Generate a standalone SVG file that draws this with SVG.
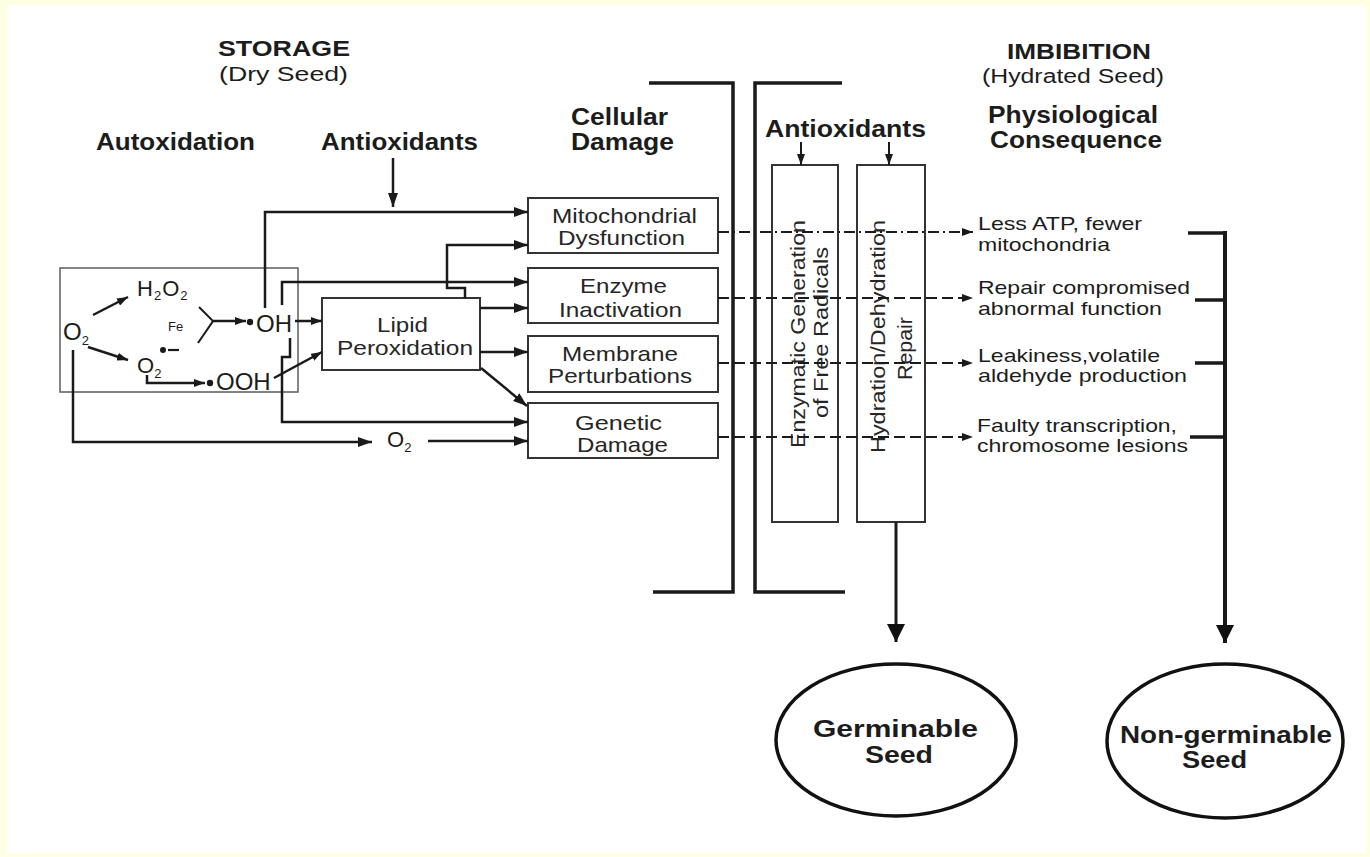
<svg xmlns="http://www.w3.org/2000/svg" width="1370" height="857" viewBox="0 0 1370 857">
<style>
text{font-family:"Liberation Sans",Arial,Helvetica,sans-serif;fill:#1c1c1c}
.h{font-weight:bold;font-size:24px}
.h2{font-weight:bold;font-size:22px}
.s{font-size:22px}
.p{font-size:20px}
.r{font-size:19px}
.b{font-size:21px;fill:#262626}
.ch{font-size:24px}
.sub{font-size:13px}
.box{fill:#fff;stroke:#333;stroke-width:2}
.vbox{fill:none;stroke:#333;stroke-width:2}
.frame{fill:none;stroke:#666;stroke-width:1.6}
.ln{fill:none;stroke:#1a1a1a;stroke-width:2.5}
.thin{fill:none;stroke:#1a1a1a;stroke-width:2}
.ds{fill:none;stroke:#1a1a1a;stroke-width:2;stroke-dasharray:11 5}
.dd{fill:none;stroke:#1a1a1a;stroke-width:2;stroke-dasharray:11 4 2 4}
.br{fill:none;stroke:#1a1a1a;stroke-width:3.5}
.ov{fill:#fff;stroke:#111;stroke-width:3.5}
</style>
<defs>
<marker id="ah" markerUnits="userSpaceOnUse" markerWidth="14" markerHeight="10" refX="14" refY="5" orient="auto"><path d="M0,0L14,5L0,10z" fill="#1a1a1a"/></marker>
<marker id="as" markerUnits="userSpaceOnUse" markerWidth="11" markerHeight="8" refX="11" refY="4" orient="auto"><path d="M0,0L11,4L0,8z" fill="#1a1a1a"/></marker>
<marker id="al" markerUnits="userSpaceOnUse" markerWidth="18" markerHeight="18" refX="18" refY="9" orient="auto"><path d="M0,0L18,9L0,18z" fill="#111"/></marker>
</defs>

<rect x="0" y="0" width="1370" height="857" fill="#FFFFE3"/>
<rect x="7" y="5" width="1359" height="848" fill="#fff"/>

<g id="headers">
<text class="h2" x="218" y="56" textLength="132" lengthAdjust="spacingAndGlyphs">STORAGE</text>
<text class="p" x="219" y="81" textLength="129" lengthAdjust="spacingAndGlyphs">(Dry Seed)</text>
<text class="h" x="96" y="150" textLength="159" lengthAdjust="spacingAndGlyphs">Autoxidation</text>
<text class="h" x="321" y="150" textLength="157" lengthAdjust="spacingAndGlyphs">Antioxidants</text>
<text class="h" x="571" y="125" textLength="97" lengthAdjust="spacingAndGlyphs">Cellular</text>
<text class="h" x="571" y="150" textLength="103" lengthAdjust="spacingAndGlyphs">Damage</text>
<text class="h" x="765" y="137" textLength="161" lengthAdjust="spacingAndGlyphs">Antioxidants</text>
<text class="h2" x="1007" y="59" textLength="144" lengthAdjust="spacingAndGlyphs">IMBIBITION</text>
<text class="p" x="982" y="83" textLength="182" lengthAdjust="spacingAndGlyphs">(Hydrated Seed)</text>
<text class="h" x="988" y="123" textLength="170" lengthAdjust="spacingAndGlyphs">Physiological</text>
<text class="h" x="990" y="148" textLength="172" lengthAdjust="spacingAndGlyphs">Consequence</text>
</g>

<g id="autoxidation-frame">
<rect class="frame" x="60" y="268" width="238" height="124"/>
</g>

<g id="chem-o2">
<text class="ch" x="63" y="340">O<tspan class="sub" dy="5">2</tspan></text>
</g>
<g id="chem-h2o2">
<text class="s" x="137" y="296" letter-spacing="1">H<tspan class="sub" dy="4">2</tspan><tspan dy="-4">O</tspan><tspan class="sub" dy="4">2</tspan></text>
</g>
<g id="chem-fe">
<text x="168" y="331" style="font-size:13px">Fe</text>
</g>
<g id="chem-oh">
<circle cx="250" cy="322" r="3.2" fill="#1a1a1a"/>
<text class="ch" x="256" y="332">OH</text>
</g>
<g id="chem-superoxide">
<text class="s" x="137" y="373">O<tspan class="sub" dy="5">2</tspan></text>
<circle cx="163" cy="350" r="3" fill="#1a1a1a"/>
<line x1="168" y1="350" x2="179" y2="350" stroke="#1a1a1a" stroke-width="2.2"/>
</g>
<g id="chem-ooh">
<circle cx="210" cy="383" r="3.2" fill="#1a1a1a"/>
<text class="ch" x="216" y="390">OOH</text>
</g>
<g id="chem-o2-lower">
<text class="s" x="387" y="447">O<tspan class="sub" dy="5">2</tspan></text>
</g>

<g id="lipid">
<rect class="box" x="322" y="298" width="158" height="72"/>
<text class="b" x="377" y="332" textLength="51" lengthAdjust="spacingAndGlyphs">Lipid</text>
<text class="b" x="337" y="355" textLength="136" lengthAdjust="spacingAndGlyphs">Peroxidation</text>
</g>

<g id="mito">
<rect class="box" x="528" y="198" width="190" height="55"/>
<text class="b" x="552" y="223" textLength="145" lengthAdjust="spacingAndGlyphs">Mitochondrial</text>
<text class="b" x="558" y="245" textLength="127" lengthAdjust="spacingAndGlyphs">Dysfunction</text>
</g>
<g id="enzyme">
<rect class="box" x="528" y="268" width="190" height="55"/>
<text class="b" x="580" y="293" textLength="87" lengthAdjust="spacingAndGlyphs">Enzyme</text>
<text class="b" x="559" y="317" textLength="123" lengthAdjust="spacingAndGlyphs">Inactivation</text>
</g>
<g id="membrane">
<rect class="box" x="528" y="336" width="190" height="56"/>
<text class="b" x="562" y="361" textLength="116" lengthAdjust="spacingAndGlyphs">Membrane</text>
<text class="b" x="548" y="383" textLength="144" lengthAdjust="spacingAndGlyphs">Perturbations</text>
</g>
<g id="genetic">
<rect class="box" x="528" y="403" width="190" height="55"/>
<text class="b" x="575" y="430" textLength="87" lengthAdjust="spacingAndGlyphs">Genetic</text>
<text class="b" x="577" y="452" textLength="91" lengthAdjust="spacingAndGlyphs">Damage</text>
</g>

<g id="brackets">
<path class="br" d="M649,83H733V592H653"/>
<path class="br" d="M842,83H755V592H845"/>
</g>

<g id="enzymatic">
<rect class="vbox" x="772" y="165" width="66" height="357"/>
<text class="b" transform="translate(805,448) rotate(-90)" x="0" y="0" textLength="228" lengthAdjust="spacingAndGlyphs">Enzymatic Generation</text>
<text class="b" transform="translate(828,418) rotate(-90)" x="0" y="0" textLength="171" lengthAdjust="spacingAndGlyphs">of Free Radicals</text>
</g>
<g id="hydration">
<rect class="vbox" x="857" y="165" width="68" height="357"/>
<text class="b" transform="translate(885,453) rotate(-90)" x="0" y="0" textLength="233" lengthAdjust="spacingAndGlyphs">Hydration/Dehydration</text>
<text class="b" transform="translate(912,380) rotate(-90)" x="0" y="0" textLength="63" lengthAdjust="spacingAndGlyphs">Repair</text>
</g>

<g id="consequences">
<text class="r" x="978" y="230" textLength="164" lengthAdjust="spacingAndGlyphs">Less ATP, fewer</text>
<text class="r" x="978" y="251" textLength="132" lengthAdjust="spacingAndGlyphs">mitochondria</text>
<text class="r" x="978" y="294" textLength="212" lengthAdjust="spacingAndGlyphs">Repair compromised</text>
<text class="r" x="978" y="315" textLength="184" lengthAdjust="spacingAndGlyphs">abnormal function</text>
<text class="r" x="978" y="362" textLength="182" lengthAdjust="spacingAndGlyphs">Leakiness,volatile</text>
<text class="r" x="978" y="382" textLength="209" lengthAdjust="spacingAndGlyphs">aldehyde production</text>
<text class="r" x="977" y="432" textLength="200" lengthAdjust="spacingAndGlyphs">Faulty transcription,</text>
<text class="r" x="977" y="452" textLength="211" lengthAdjust="spacingAndGlyphs">chromosome lesions</text>
</g>

<g id="germinable">
<ellipse class="ov" cx="896" cy="740" rx="120" ry="76"/>
<text class="h" x="813" y="737" textLength="165" lengthAdjust="spacingAndGlyphs">Germinable</text>
<text class="h" x="865" y="763" textLength="68" lengthAdjust="spacingAndGlyphs">Seed</text>
</g>
<g id="non-germinable">
<ellipse class="ov" cx="1225" cy="741" rx="118" ry="77"/>
<text class="h" x="1120" y="743" textLength="212" lengthAdjust="spacingAndGlyphs">Non-germinable</text>
<text class="h" x="1182" y="768" textLength="65" lengthAdjust="spacingAndGlyphs">Seed</text>
</g>

<g id="connectors">
<line class="ln" x1="93" y1="315" x2="128" y2="297" marker-end="url(#as)"/>
<line class="ln" x1="88" y1="347" x2="128" y2="360" marker-end="url(#as)"/>
<path class="thin" d="M199,307L213,321L198,343"/>
<line class="ln" x1="213" y1="321" x2="246" y2="321" marker-end="url(#as)"/>
<path class="ln" d="M147,375V383H205" marker-end="url(#as)"/>
<line class="ln" x1="295" y1="321" x2="322" y2="321" marker-end="url(#as)"/>
<line class="ln" x1="274" y1="378" x2="322" y2="352" marker-end="url(#as)"/>
<path class="ln" d="M73,350V442H372" marker-end="url(#ah)"/>
<line class="ln" x1="428" y1="441" x2="528" y2="441" marker-end="url(#ah)"/>
<line class="ln" x1="393" y1="158" x2="393" y2="207" marker-end="url(#ah)"/>
<path class="ln" d="M265,308V212H528" marker-end="url(#ah)"/>
<path class="ln" d="M282,305V282H528" marker-end="url(#ah)"/>
<path class="ln" d="M290,338V357H282V422H528" marker-end="url(#ah)"/>
<path class="ln" d="M465,298V288H447V245H528" marker-end="url(#ah)"/>
<line class="ln" x1="480" y1="308" x2="528" y2="308" marker-end="url(#ah)"/>
<line class="ln" x1="480" y1="352" x2="528" y2="352" marker-end="url(#ah)"/>
<line class="ln" x1="481" y1="368" x2="527" y2="406" marker-end="url(#ah)"/>
<line class="thin" x1="801" y1="142" x2="801" y2="165" marker-end="url(#as)"/>
<line class="thin" x1="889" y1="142" x2="889" y2="165" marker-end="url(#as)"/>
<line class="dd" x1="718" y1="232" x2="973" y2="232" marker-end="url(#as)"/>
<line class="ds" x1="718" y1="298" x2="973" y2="298" marker-end="url(#as)"/>
<line class="ds" x1="718" y1="363" x2="973" y2="363" marker-end="url(#as)"/>
<line class="ds" x1="718" y1="437" x2="973" y2="437" marker-end="url(#as)"/>
<path class="br" d="M1188,233H1225M1195,300H1225M1195,363H1225M1190,437H1225"/>
<path class="br" style="stroke-width:4" d="M1225,231V643" marker-end="url(#al)"/>
<line class="br" style="stroke-width:3" x1="896" y1="522" x2="896" y2="642" marker-end="url(#al)"/>
</g>
</svg>
